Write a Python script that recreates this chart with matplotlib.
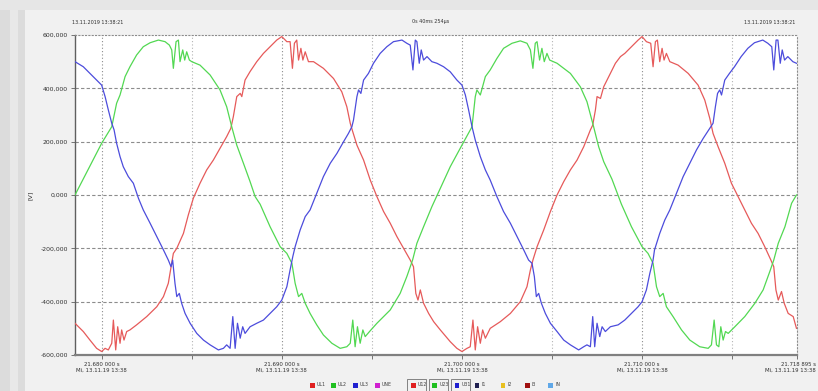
import numpy as np
import matplotlib.pyplot as plt
import matplotlib.transforms as mtransforms
from matplotlib.patches import Rectangle

# Time axis: ms after 21.680 000 s, voltage in V
t_u12 = [-1.48, -1.02, -0.65, -0.28, 0, 0.19, 0.37, 0.56, 0.65, 0.78, 0.89, 1.02, 1.11, 1.24, 1.39, 1.57,
         1.94, 2.50, 3.06, 3.43, 3.70, 3.89, 3.98, 4.17, 4.54, 4.81, 5.09, 5.46, 5.83, 6.20, 6.57, 6.94,
         7.17, 7.31, 7.50, 7.69, 7.78, 7.96, 8.24, 8.61, 8.98, 9.35, 9.72, 10.00, 10.28, 10.46, 10.59,
         10.70, 10.83, 10.93, 11.06, 11.17, 11.30, 11.48, 11.76, 12.31, 12.87, 13.33, 13.61, 13.80, 13.94,
         14.17, 14.54, 14.91, 15.28, 15.65, 16.02, 16.39, 16.76, 17.13, 17.31, 17.44, 17.56, 17.69, 17.87,
         18.15, 18.43, 18.80, 19.35, 19.72, 20.00, 20.28, 20.46, 20.61, 20.74, 20.87, 21.02, 21.15, 21.30,
         21.57, 22.13, 22.69, 23.24, 23.61, 23.80, 23.94, 24.17, 24.54, 24.91, 25.28, 25.65, 26.02, 26.39,
         26.76, 27.13, 27.26, 27.41, 27.50, 27.69, 27.87, 28.24, 28.52, 28.80, 29.04, 29.41, 29.78, 30.00,
         30.24, 30.48, 30.61, 30.74, 30.85, 30.98, 31.11, 31.22, 31.35, 31.54, 32.00, 32.56, 33.11, 33.48,
         33.76, 33.94, 34.22, 34.59, 34.96, 35.33, 35.70, 36.07, 36.44, 36.81, 37.15, 37.31, 37.43, 37.56,
         37.74, 37.89, 38.11, 38.39, 38.57]
u12 = [-481, -512, -544, -575, -587, -575, -581, -556, -469, -581, -494, -556, -506, -544, -512, -506,
       -487, -456, -419, -381, -331, -256, -219, -200, -144, -75, -12, 44, 94, 131, 175, 219,
       250, 294, 369, 381, 369, 431, 463, 500, 531, 556, 581, 594, 575, 575, 475,
       569, 581, 506, 550, 506, 537, 500, 500, 475, 437, 387, 331, 269, 237,
       187, 131, 56, -6, -62, -106, -156, -200, -244, -269, -369, -394, -356, -406,
       -444, -475, -506, -550, -575, -587, -575, -569, -469, -581, -494, -556, -506, -537,
       -500, -475, -444, -400, -344, -281, -244, -194, -131, -62, 0, 50, 94, 131,
       181, 244, 262, 319, 369, 362, 406, 456, 494, 519, 531, 556, 581, 594,
       575, 569, 481, 575, 581, 500, 550, 506, 531, 500, 487, 456, 412, 356,
       287, 231, 181, 119, 44, -6, -56, -106, -144, -194, -244, -269, -356, -394,
       -362, -406, -444, -456, -500]

t_u23 = [-1.48, 0, 0.56, 0.83, 1.02, 1.30, 1.57, 1.94, 2.31, 2.69, 3.15, 3.52, 3.76, 3.89, 3.98, 4.13,
         4.26, 4.35, 4.50, 4.61, 4.72, 4.87, 5.00, 5.46, 6.02, 6.57, 6.94, 7.22, 7.50, 7.87, 8.24, 8.52,
         8.80, 9.35, 9.91, 10.28, 10.56, 10.74, 10.93, 11.11, 11.30, 11.57, 11.94, 12.31, 12.78, 13.24,
         13.61, 13.80, 13.94, 14.07, 14.20, 14.35, 14.50, 14.63, 14.87, 15.28, 16.02, 16.57, 16.94, 17.26,
         17.50, 17.87, 18.33, 18.80, 19.35, 20.00, 20.56, 20.74, 20.83, 21.02, 21.30, 21.57, 21.94, 22.31,
         22.78, 23.24, 23.61, 23.80, 23.94, 24.07, 24.17, 24.31, 24.44, 24.57, 24.72, 24.87, 25.28, 26.02,
         26.57, 26.94, 27.31, 27.59, 27.87, 28.33, 28.85, 29.41, 30.00, 30.33, 30.61, 30.80, 30.98, 31.17,
         31.35, 31.72, 32.19, 32.65, 33.20, 33.67, 33.85, 34.00, 34.13, 34.26, 34.37, 34.50, 34.63, 34.78,
         35.15, 35.70, 36.26, 36.72, 37.09, 37.31, 37.56, 37.93, 38.30, 38.57]
u23 = [0, 194, 256, 344, 375, 444, 481, 525, 556, 571, 581, 575, 562, 544, 475, 575,
       581, 500, 544, 506, 537, 506, 500, 487, 450, 394, 331, 256, 187, 119, 50, -6,
       -35, -119, -194, -219, -256, -331, -381, -369, -406, -444, -487, -525, -556, -575,
       -569, -556, -469, -569, -494, -556, -506, -531, -512, -481, -431, -369, -306, -244,
       -181, -119, -44, 25, 106, 187, 256, 369, 394, 375, 444, 469, 512, 550,
       569, 578, 569, 544, 475, 569, 575, 506, 550, 500, 531, 506, 494, 456,
       406, 350, 256, 181, 125, 59, -34, -119, -194, -219, -256, -344, -381, -369,
       -419, -456, -506, -544, -569, -575, -562, -469, -562, -569, -494, -544, -512, -519,
       -494, -456, -406, -356, -287, -244, -181, -119, -31, 0]

t_u31 = [-1.48, -1.02, -0.65, -0.28, 0, 0.19, 0.37, 0.56, 0.69, 0.83, 1.02, 1.20, 1.48, 1.76, 2.04, 2.31,
         2.69, 3.06, 3.43, 3.70, 3.85, 3.94, 4.07, 4.17, 4.31, 4.44, 4.63, 4.91, 5.28, 5.65, 6.02, 6.48,
         6.76, 6.94, 7.13, 7.28, 7.41, 7.54, 7.69, 7.83, 7.96, 8.24, 8.61, 8.98, 9.35, 9.72, 10.00, 10.28,
         10.46, 10.61, 10.74, 11.02, 11.30, 11.57, 11.94, 12.31, 12.69, 13.06, 13.43, 13.70, 13.89, 13.98,
         14.17, 14.26, 14.39, 14.54, 14.81, 15.09, 15.46, 15.83, 16.20, 16.67, 16.94, 17.13, 17.28, 17.41,
         17.50, 17.63, 17.74, 17.87, 18.06, 18.33, 18.61, 18.98, 19.35, 19.72, 20.00, 20.19, 20.37, 20.56,
         20.74, 21.02, 21.30, 21.57, 21.94, 22.31, 22.69, 23.06, 23.43, 23.70, 23.89, 24.02, 24.13, 24.26,
         24.41, 24.63, 24.91, 25.28, 25.65, 26.02, 26.48, 26.76, 26.94, 27.13, 27.26, 27.37, 27.50, 27.65,
         27.78, 27.96, 28.24, 28.67, 29.04, 29.41, 29.78, 30.00, 30.24, 30.43, 30.61, 30.69, 30.98, 31.26,
         31.54, 31.91, 32.28, 32.65, 33.02, 33.39, 33.76, 33.94, 34.07, 34.19, 34.31, 34.41, 34.59, 34.85,
         35.13, 35.50, 35.87, 36.24, 36.70, 36.98, 37.20, 37.31, 37.44, 37.54, 37.67, 37.78, 37.91, 38.09,
         38.37, 38.57]
u31 = [500, 481, 456, 431, 412, 369, 319, 269, 244, 194, 144, 106, 69, 44, -12, -56,
       -106, -156, -206, -244, -269, -244, -331, -381, -369, -406, -444, -481, -519, -544, -562, -581,
       -575, -562, -575, -456, -575, -481, -537, -494, -519, -494, -481, -469, -444, -419, -394, -344,
       -281, -231, -194, -131, -81, -56, 6, 69, 119, 156, 200, 231, 256, 281,
       369, 394, 381, 431, 456, 494, 531, 556, 575, 581, 569, 562, 469, 581,
       575, 494, 544, 506, 519, 500, 494, 481, 462, 431, 412, 375, 319, 256,
       206, 144, 94, 56, -6, -62, -106, -156, -206, -244, -256, -306, -381, -369,
       -406, -444, -481, -512, -544, -562, -581, -569, -562, -569, -456, -569, -481, -531,
       -494, -512, -494, -487, -469, -444, -419, -400, -356, -294, -244, -206, -144, -94,
       -56, 6, 69, 119, 169, 212, 250, 269, 331, 381, 394, 375, 431, 456,
       481, 519, 550, 571, 581, 569, 556, 469, 581, 581, 494, 544, 506, 519,
       500, 494]

y_ticks = [-600, -400, -200, 0, 200, 400, 600]
y_labels = ['-600,000', '-400,000', '-200,000', '0,000', '200,000', '400,000', '600,000']
x_major = [0, 10, 20, 30]
x_labels = ['21.680 000 s', '21.690 000 s', '21.700 000 s', '21.710 000 s']
x_minor = [5, 15, 25, 35]
x_end = 38.6
x_end_label = '21.718 895 s'
date_label = 'Mi, 13.11.19 13:38'

legend_names = ['UL1', 'UL2', 'UL3', 'UNE', 'U12', 'U23', 'U31', 'I1', 'I2', 'I3', 'IN']
legend_colors = ['#e02020', '#20c020', '#2020d0', '#d020d0', '#e02020', '#20c020', '#2020d0',
                 '#202050', '#e8c020', '#a01010', '#60a8e8']
legend_boxed = [False, False, False, False, True, True, True, False, False, False, False]

W, H = 818, 391
fig = plt.figure(figsize=(W / 100, H / 100), dpi=100, facecolor='#dcdcdc')

# window background (kept behind the axes)
def bg_rect(x0, y0, w, h, col):
    fig.patches.append(Rectangle((x0 / W, 1 - (y0 + h) / H), w / W, h / H, transform=fig.transFigure,
                                 facecolor=col, edgecolor='none', zorder=-10))

bg_rect(0, 0, W, 10, '#e6e6e6')
bg_rect(10, 10, 8, H, '#e8e8e8')
bg_rect(25, 10, W, H, '#f1f1f1')

ax = fig.add_axes([75 / W, 1 - 355 / H, 722 / W, 320 / H], zorder=1)
ax.set_facecolor('white')

ax.plot(t_u12, u12, color='#e65a5a', lw=0.9, zorder=3)
ax.plot(t_u23, u23, color='#52d852', lw=0.9, zorder=3)
ax.plot(t_u31, u31, color='#4c4cdc', lw=0.9, zorder=3)

ax.set_xlim(-1.48, x_end)
ax.set_ylim(-600, 600)

# grid
for y in y_ticks[1:-1]:
    ax.axhline(y, color='#8c8c8c', lw=0.8, ls=(0, (3, 2)), zorder=1)
for x in x_major:
    ax.axvline(x, color='#8c8c8c', lw=0.8, ls=(0, (1, 2)), zorder=1)
for x in x_minor:
    ax.axvline(x, color='#b4b4b4', lw=0.8, ls=(0, (1, 2)), zorder=1)

for s in ['top', 'right']:
    ax.spines[s].set_color('#8c8c8c')
    ax.spines[s].set_linestyle((0, (1, 2)))
    ax.spines[s].set_linewidth(0.8)
ax.spines['left'].set_color('#606060')
ax.spines['left'].set_linewidth(1.0)
ax.spines['bottom'].set_color('#808080')
ax.spines['bottom'].set_linewidth(1.6)

ax.set_yticks(y_ticks)
ax.set_yticklabels(y_labels, fontsize=4.4, color='#303030')
ax.tick_params(axis='y', length=3, width=0.6, color='#606060', pad=2)
ax.set_xticks(x_major + [x_end])
ax.set_xticklabels([l + '\n' + date_label for l in x_labels + [x_end_label]],
                   fontsize=3.9, color='#303030', linespacing=1.3)
ax.set_xticks(x_minor, minor=True)
ax.tick_params(axis='x', which='both', length=3, width=0.6, color='#606060', pad=2)
ax.set_ylabel('[V]', fontsize=4.6, color='#303030')
ax.yaxis.set_label_coords(-42 / 722, 0.5)

# last x label sits at the window edge: keep it inside the picture
end_lbl = ax.get_xticklabels()[-1]
end_lbl.set_ha('right')
end_lbl.set_transform(end_lbl.get_transform() + mtransforms.ScaledTranslation(19 / 100, 0, fig.dpi_scale_trans))

# header texts
fig.text(72 / W, 1 - 22 / H, '13.11.2019 13:38:21', fontsize=3.5, color='#303030', va='center', ha='left')
fig.text(431 / W, 1 - 22 / H, '0s 40ms 254µs', fontsize=3.5, color='#303030', va='center', ha='center')
fig.text(795 / W, 1 - 22 / H, '13.11.2019 13:38:21', fontsize=3.5, color='#303030', va='center', ha='right')

# legend row
leg_x = [312, 333, 355, 377, 413, 435, 457, 477, 503, 527, 550]
leg_y = 1 - 385 / H
for px, name, col, boxed in zip(leg_x, legend_names, legend_colors, legend_boxed):
    fig.patches.append(Rectangle(((px - 2.5) / W, leg_y - 2.5 / H), 5 / W, 5 / H,
                                 transform=fig.transFigure, facecolor=col, edgecolor='none', zorder=2))
    fig.text((px + 5) / W, leg_y, name, fontsize=3.4, color='#404040', va='center', ha='left')
    if boxed:
        fig.patches.append(Rectangle(((px - 6) / W, leg_y - 6 / H), 19 / W, 12 / H,
                                     transform=fig.transFigure, facecolor='none',
                                     edgecolor='#707070', lw=0.6, zorder=2))

fig.savefig('out.png', dpi=100, facecolor=fig.get_facecolor())
